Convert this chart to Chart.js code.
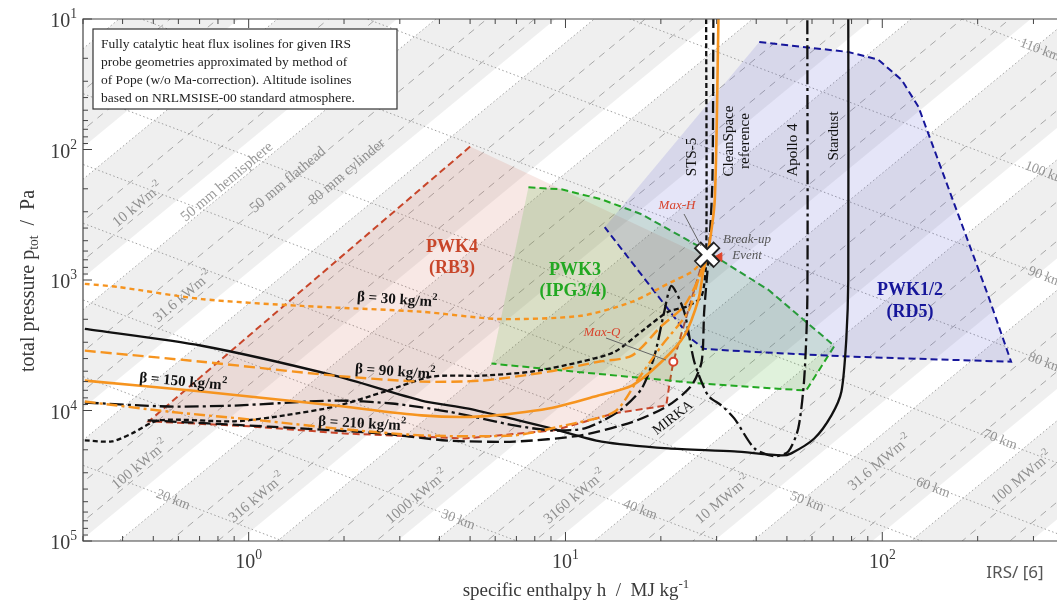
<!DOCTYPE html>
<html>
<head>
<meta charset="utf-8">
<script src="https://cdn.jsdelivr.net/npm/chart.js@4.4.1/dist/chart.umd.min.js"></script>
<style>
  body { margin: 0; background: #fff; }
</style>
</head>
<body>
<canvas id="myChart" width="1057" height="602"></canvas>
<script>
// h = specific enthalpy [MJ/kg], p = total pressure [Pa]

// trajectories
const stardustH = [0.304, 0.711, 1.87, 3.51, 4.94, 7.11, 9.03, 13.0, 21.1, 34.1, 48.0, 51.6, 61.0, 69.1, 74.3, 77.0, 78.1, 78.1];
const stardustP = [2370, 3190, 5410, 8390, 9660, 11900, 13700, 17300, 19500, 20600, 22100, 21300, 16400, 10900, 7160, 2820, 982, 10];
const apolloH = [0.304, 0.560, 0.904, 1.87, 2.83, 4.27, 6.90, 9.03, 11.5, 14.7, 17.4, 19.1, 20.5, 21.6, 23.7, 25.5, 28.2, 31.1, 34.1, 39.5, 45.6, 50.5, 54.3, 56.7, 58.0, 58.0];
const apolloP = [8690, 9320, 9160, 8390, 8840, 10200, 13000, 14200, 13700, 10200, 6790, 3800, 1750, 1110, 1750, 4230, 7680, 9160, 11500, 19500, 22400, 20600, 13700, 5700, 1400, 10];
const mirkaH = [0.48, 1.16, 2.63, 4.27, 6.90, 11.2, 16.5, 21.1, 25.0, 26.9, 27.4, 28.4, 29.1, 29.3];
const mirkaP = [11900, 13300, 15000, 17000, 17300, 15500, 12100, 9160, 6440, 4230, 1750, 580, 169, 10];
const stsH = [0.304, 0.370, 0.428, 0.520, 0.904, 1.30, 1.87, 2.69, 3.78, 5.43, 7.81, 11.2, 14.3, 17.8, 21.1, 24.4, 26.9, 27.8, 27.8];
const stsP = [16950, 17260, 15000, 11900, 12100, 10900, 9320, 7160, 5500, 5410, 5040, 4230, 3550, 2370, 1750, 1580, 1330, 690, 10];

// CleanSpace reference, ballistic coefficients 30 / 90 / 150 / 210 kg/m2
const beta30H = [0.304, 0.386, 0.711, 1.47, 3.51, 6.15, 11.2, 16.2, 21.6, 25.0, 26.9, 28.0];
const beta30P = [1070, 1130, 1400, 1580, 1750, 1990, 1880, 1470, 1035, 869, 729, 633];
const beta90H = [0.304, 0.711, 1.87, 3.51, 5.43, 8.84, 12.7, 16.2, 20.1, 23.7, 26.3, 27.4, 28.0];
const beta90P = [3480, 4230, 5410, 6010, 5900, 5040, 4230, 3800, 2250, 1580, 982, 729, 633];
const beta150H = [0.304, 0.711, 1.87, 3.51, 5.43, 8.84, 12.7, 16.2, 20.1, 23.7, 26.3, 27.2, 28.2, 29.6, 30.4];
const beta150P = [5900, 7160, 9160, 10900, 11100, 9660, 7680, 6440, 4230, 2680, 1400, 869, 611, 241, 10];
const beta210H = [0.304, 0.560, 1.16, 1.87, 3.51, 6.90, 9.93, 14.3, 17.0, 20.1, 24.4, 26.3, 27.4, 28.0];
const beta210P = [8540, 10200, 12100, 13700, 15500, 15500, 13000, 10200, 5700, 3190, 1750, 982, 782, 633];

// wind tunnel envelopes
const pwk4H = [5.0, 0.484, 1.0, 2.0, 4.8, 9.2, 14.3, 20.8, 21.3, 21.9, 25.0, 27.4];
const pwk4P = [95, 12100, 13200, 15000, 16400, 14200, 10500, 9160, 6220, 4230, 1400, 660];
const pwk3H = [7.64, 9.71, 13.0, 17.4, 26.3, 43.7, 70.6, 57.5, 26.9, 10.7, 5.84];
const pwk3P = [195, 202, 241, 314, 550, 1190, 3200, 7030, 6220, 5040, 4370];
const pwk12H = [40.9, 78.1, 97.1, 115, 130, 216, 255, 79.8, 38.6, 27.4, 24.9, 13.3];
const pwk12P = [15.0, 17.9, 20.5, 29.2, 47.0, 1325, 4230, 3870, 3550, 3370, 2820, 394];

// events
const breakupH = [28.0], breakupP = [640];
const maxHH = [30.6], maxHP = [667];
const maxQH = [21.9], maxQP = [4230];

// heat flux isolines: hemisphere pressure at h = 1 MJ/kg for each level, slope -2 in log-log
const fluxLabels = ['10 kWm', '31.6 kWm', '100 kWm', '316 kWm', '1000 kWm', '3160 kWm', '10 MWm', '31.6 MWm', '100 MWm'];
const fluxP1 = [1.52, 15.2, 152, 1520, 15200, 152000, 1.52e6, 1.52e7, 1.52e8, 1.52e9];
const probeRatio = [1, 2.1, 4.2];
const bandRatio = 5.7;
// altitude isolines: pressure at h = 1 MJ/kg, slope 0.92 in log-log
const altLabels = ['20 km', '30 km', '40 km', '50 km', '60 km', '70 km', '80 km', '90 km', '100 km', '110 km'];
const altP1 = [79600, 16630, 4300, 1112, 394, 113, 20.5, 4.53, 0.78, 0.085];

const FF = '"Liberation Serif","DejaVu Serif",serif';
const ORANGE = '#f6941f';
const GRAYTXT = '#9a9a9a';

function pts(hs, ps) { return hs.map((h, i) => ({ x: h, y: ps[i] })); }
function isoline(p1, k) { return [0.2, 500].map(h => ({ x: h, y: p1 * Math.pow(h, k) })); }

const datasets = [];
function add(data, opt) {
  datasets.push(Object.assign({ type: 'line', data: data, pointRadius: 0, borderWidth: 2, fill: false, tension: 0 }, opt));
}

// background bands and isolines
fluxP1.forEach(p1 => {
  add(isoline(p1, -2), { borderColor: '#a4a4a4', borderWidth: 1, borderDash: [1.5, 2.5], fill: '+1', backgroundColor: 'rgba(0,0,0,0.062)', order: 100 });
  add(isoline(p1 * bandRatio, -2), { borderColor: 'rgba(0,0,0,0)', borderWidth: 0, order: 100 });
  add(isoline(p1 * probeRatio[1], -2), { borderColor: '#a8a8a8', borderWidth: 1, borderDash: [7, 6], order: 95 });
  add(isoline(p1 * probeRatio[2], -2), { borderColor: '#a8a8a8', borderWidth: 1, borderDash: [7, 6], order: 95 });
});
altP1.forEach(p1 => {
  add(isoline(p1, 0.92), { borderColor: '#a0a0a0', borderWidth: 1, borderDash: [1.5, 2.5], order: 94 });
});

// envelopes
add(pts(pwk4H, pwk4P), { borderColor: '#c8462a', borderDash: [7, 4], fill: 'shape', backgroundColor: 'rgba(210,100,80,0.15)', order: 50 });
add(pts(pwk3H, pwk3P), { borderColor: '#22a822', borderDash: [7, 4], fill: 'shape', backgroundColor: 'rgba(70,180,50,0.17)', order: 49 });
add(pts(pwk12H, pwk12P), { borderColor: '#16169a', borderDash: [7, 4], fill: 'shape', backgroundColor: 'rgba(80,80,205,0.15)', order: 48 });

// trajectories
add(pts(stardustH, stardustP), { borderColor: '#111', borderWidth: 2.3, tension: 0.25, order: 20 });
add(pts(apolloH, apolloP), { borderColor: '#111', borderWidth: 2.3, borderDash: [14, 4, 3, 4], tension: 0.25, order: 20 });
add(pts(mirkaH, mirkaP), { borderColor: '#111', borderWidth: 2.3, borderDash: [12, 5], tension: 0.25, order: 20 });
add(pts(stsH, stsP), { borderColor: '#111', borderWidth: 2.3, borderDash: [5, 3], tension: 0.25, order: 20 });
add(pts(beta30H, beta30P), { borderColor: ORANGE, borderWidth: 2.4, borderDash: [5, 4], tension: 0.25, order: 15 });
add(pts(beta90H, beta90P), { borderColor: ORANGE, borderWidth: 2.4, borderDash: [11, 5], tension: 0.25, order: 15 });
add(pts(beta150H, beta150P), { borderColor: ORANGE, borderWidth: 2.6, tension: 0.25, order: 15 });
add(pts(beta210H, beta210P), { borderColor: ORANGE, borderWidth: 2.4, borderDash: [11, 4, 3, 4], tension: 0.25, order: 15 });

// markers
add(pts(maxQH, maxQP), { showLine: false, pointRadius: 4, pointStyle: 'circle', pointBorderWidth: 2, pointBorderColor: '#d8432c', pointBackgroundColor: '#fff', order: 3 });
add(pts(maxHH, maxHP), { showLine: false, pointRadius: 5, pointStyle: 'triangle', pointRotation: -90, pointBorderWidth: 1, pointBorderColor: '#e0452c', pointBackgroundColor: '#e0452c', order: 2 });
add(pts(breakupH, breakupP), { showLine: false, pointRadius: 14, pointStyle: 'crossRot', pointBorderWidth: 10, pointBorderColor: '#222', order: 1 });
add(pts(breakupH, breakupP), { showLine: false, pointRadius: 12.5, pointStyle: 'crossRot', pointBorderWidth: 6, pointBorderColor: '#fff', order: 0 });

function rich(ctx, parts, x, y, size, style, align) {
  const seg = [];
  let w = 0;
  parts.forEach(p => {
    const fs = p[1] === 'n' ? size : size * 0.68;
    ctx.font = style + ' ' + fs + 'px ' + FF;
    const tw = ctx.measureText(p[0]).width;
    seg.push({ t: p[0], k: p[1], fs: fs, tw: tw });
    w += tw;
  });
  let cx = align === 'center' ? x - w / 2 : (align === 'right' ? x - w : x);
  ctx.textAlign = 'left';
  ctx.textBaseline = 'middle';
  seg.forEach(s => {
    ctx.font = style + ' ' + s.fs + 'px ' + FF;
    const dy = s.k === 'sup' ? -size * 0.36 : (s.k === 'sub' ? size * 0.28 : 0);
    ctx.fillText(s.t, cx, y + dy);
    cx += s.tw;
  });
}
function label(ctx, parts, x, y, deg, size, style, color, align) {
  ctx.save();
  ctx.translate(x, y);
  ctx.rotate(deg * Math.PI / 180);
  ctx.fillStyle = color;
  rich(ctx, parts, 0, 0, size, style, align || 'center');
  ctx.restore();
}

const decor = {
  id: 'decor',
  beforeDraw(chart) {
    const c = chart.ctx;
    c.save(); c.fillStyle = '#fff'; c.fillRect(0, 0, chart.width, chart.height); c.restore();
  },
  beforeDatasetsDraw(chart) {
    const c = chart.ctx;
    const fluxPos = [[138, 205], [183, 297], [140, 465], [257, 498], [417, 497], [575, 497], [723, 500], [880, 463], [1022, 478]];
    fluxLabels.forEach((t, i) => label(c, [[t, 'n'], ['-2', 'sup']], fluxPos[i][0], fluxPos[i][1], -40, 15, '', GRAYTXT));
    label(c, [['50 mm hemisphere', 'n']], 227, 182, -40, 15, '', GRAYTXT);
    label(c, [['50 mm flathead', 'n']], 288, 180, -40, 15, '', GRAYTXT);
    label(c, [['80 mm cylinder', 'n']], 347, 172, -40, 15, '', GRAYTXT);
    const altPos = [[173, 500], [458, 520], [640, 510], [807, 502], [933, 488], [1000, 440], [1045, 363], [1045, 277], [1045, 173], [1040, 50]];
    altLabels.forEach((t, i) => label(c, [[t, 'n']], altPos[i][0], altPos[i][1], 21, 14, '', GRAYTXT));
  },
  afterDatasetsDraw(chart) {
    const c = chart.ctx;
    const a = chart.chartArea;
    const xs = chart.scales.x, ys = chart.scales.y;

    // frame and inward ticks
    c.save();
    c.strokeStyle = '#444';
    c.lineWidth = 1.2;
    c.beginPath();
    c.moveTo(a.right, a.top); c.lineTo(a.left, a.top); c.lineTo(a.left, a.bottom); c.lineTo(a.right, a.bottom);
    c.stroke();
    c.lineWidth = 1;
    c.beginPath();
    for (let k = -1; k <= 2; k++) {
      for (let m = 1; m <= 9; m++) {
        const v = m * Math.pow(10, k);
        if (v < xs.min || v > xs.max) continue;
        const px = xs.getPixelForValue(v);
        const len = m === 1 ? 9 : 5;
        c.moveTo(px, a.bottom); c.lineTo(px, a.bottom - len);
        c.moveTo(px, a.top); c.lineTo(px, a.top + len);
      }
    }
    for (let k = 1; k <= 5; k++) {
      for (let m = 1; m <= 9; m++) {
        const v = m * Math.pow(10, k);
        if (v > ys.max) continue;
        const py = ys.getPixelForValue(v);
        const len = m === 1 ? 9 : 5;
        c.moveTo(a.left, py); c.lineTo(a.left + len, py);
      }
    }
    c.stroke();

    // tick labels
    c.fillStyle = '#3a3a3a';
    [[1, '0'], [10, '1'], [100, '2']].forEach(t => {
      rich(c, [['10', 'n'], [t[1], 'sup']], xs.getPixelForValue(t[0]), a.bottom + 22, 20, '', 'center');
    });
    for (let k = 1; k <= 5; k++) {
      rich(c, [['10', 'n'], [String(k), 'sup']], a.left - 6, ys.getPixelForValue(Math.pow(10, k)) + 3, 20, '', 'right');
    }
    // axis titles
    rich(c, [['specific enthalpy h  /  MJ kg', 'n'], ['-1', 'sup']], 576, 591, 19, '', 'center');
    label(c, [['total pressure p', 'n'], ['tot', 'sub'], ['  /  Pa', 'n']], 29, 281, -90, 20, '', '#3a3a3a');

    // envelope labels
    label(c, [['PWK4', 'n']], 452, 247, 0, 18, 'bold', '#c8462a');
    label(c, [['(RB3)', 'n']], 452, 268, 0, 18, 'bold', '#c8462a');
    label(c, [['PWK3', 'n']], 575, 270, 0, 18, 'bold', '#22a822');
    label(c, [['(IPG3/4)', 'n']], 573, 291, 0, 18, 'bold', '#22a822');
    label(c, [['PWK1/2', 'n']], 910, 290, 0, 18, 'bold', '#16169a');
    label(c, [['(RD5)', 'n']], 910, 312, 0, 18, 'bold', '#16169a');

    // trajectory labels
    label(c, [['β = 30 kg/m', 'n'], ['2', 'sup']], 397, 300, 4, 15, 'bold', '#111');
    label(c, [['β = 90 kg/m', 'n'], ['2', 'sup']], 395, 372, 4, 15, 'bold', '#111');
    label(c, [['β = 150 kg/m', 'n'], ['2', 'sup']], 183, 382, 5, 15, 'bold', '#111');
    label(c, [['β = 210 kg/m', 'n'], ['2', 'sup']], 362, 424, 3, 15, 'bold', '#111');
    label(c, [['STS-5', 'n']], 692, 157, -90, 15, '', '#111');
    label(c, [['CleanSpace', 'n']], 729, 141, -90, 15, '', '#111');
    label(c, [['reference', 'n']], 745, 141, -90, 15, '', '#111');
    label(c, [['Apollo 4', 'n']], 793, 150, -90, 15, '', '#111');
    label(c, [['Stardust', 'n']], 834, 136, -90, 15, '', '#111');
    label(c, [['MIRKA', 'n']], 673, 418, -38, 14, '', '#111');

    // events
    c.strokeStyle = '#666';
    c.lineWidth = 1;
    c.beginPath();
    c.moveTo(684, 214); c.lineTo(701, 246);
    c.moveTo(606, 338); c.lineTo(666, 360);
    c.stroke();
    label(c, [['Max-H', 'n']], 677, 206, 0, 13, 'italic', '#d8432c');
    label(c, [['Max-Q', 'n']], 602, 333, 0, 13, 'italic', '#d8432c');
    label(c, [['Break-up', 'n']], 747, 240, 0, 13, 'italic', '#555');
    label(c, [['Event', 'n']], 747, 256, 0, 13, 'italic', '#555');

    // info box
    c.fillStyle = '#fff';
    c.fillRect(93, 29, 304, 80);
    c.strokeStyle = '#333';
    c.lineWidth = 1.2;
    c.strokeRect(93, 29, 304, 80);
    const lines = ['Fully catalytic heat flux isolines for given IRS', 'probe geometries approximated by method of', 'of Pope (w/o Ma-correction). Altitude isolines', 'based on NRLMSISE-00 standard atmosphere.'];
    c.fillStyle = '#222';
    lines.forEach((t, i) => rich(c, [[t, 'n']], 101, 44 + i * 18.3, 13.5, '', 'left'));

    // source note
    c.font = '17px "Noto Sans", sans-serif';
    c.fillStyle = '#555';
    c.textAlign = 'center';
    c.textBaseline = 'middle';
    c.fillText('IRS/ [6]', 1015, 573);
    c.restore();
  }
};

new Chart(document.getElementById('myChart'), {
  data: { datasets: datasets },
  options: {
    responsive: false,
    animation: false,
    devicePixelRatio: 1,
    layout: { autoPadding: false, padding: { top: 19, left: 0, right: 0, bottom: 0 } },
    plugins: { legend: { display: false }, tooltip: { enabled: false } },
    scales: {
      x: {
        type: 'logarithmic', min: 0.304, max: 356,
        grid: { display: false }, border: { display: false }, ticks: { display: false },
        afterFit: s => { s.height = 61; }
      },
      y: {
        type: 'logarithmic', reverse: true, min: 10, max: 100000,
        grid: { display: false }, border: { display: false }, ticks: { display: false },
        afterFit: s => { s.width = 83; }
      }
    }
  },
  plugins: [decor]
});
</script>
</body>
</html>
